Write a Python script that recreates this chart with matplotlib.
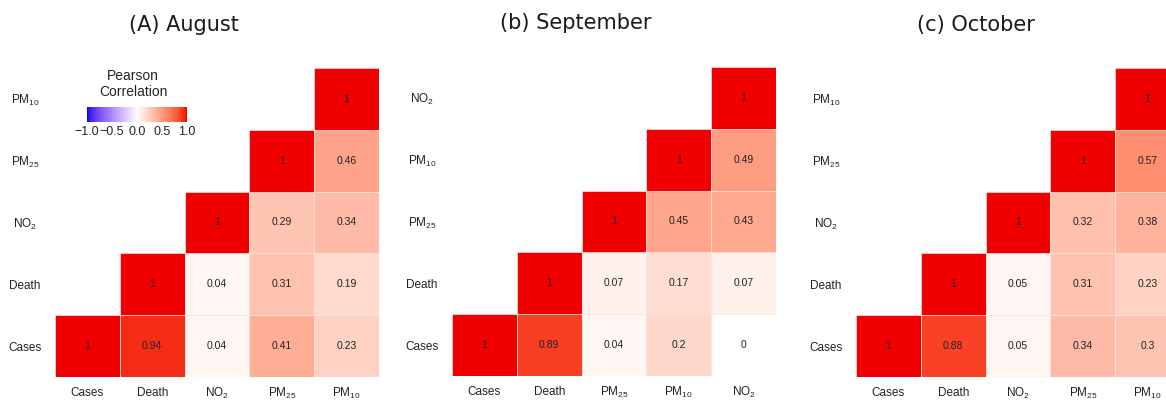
import numpy as np
import matplotlib
matplotlib.use("Agg")
import matplotlib.pyplot as plt
from matplotlib.colors import ListedColormap, Normalize

plt.rcParams["font.family"] = ["Liberation Sans", "DejaVu Sans"]
plt.rcParams["mathtext.default"] = "regular"

# ---- data: upper-triangle Pearson correlations (row i, columns i..4) ----
titles = ["(A) August", "(b) September", "(c) October"]

vars_aug = ["Cases", "Death", "NO$_2$", "PM$_{25}$", "PM$_{10}$"]
vars_sep = ["Cases", "Death", "PM$_{25}$", "PM$_{10}$", "NO$_2$"]
vars_oct = ["Cases", "Death", "NO$_2$", "PM$_{25}$", "PM$_{10}$"]

aug_cases = [1, 0.94, 0.04, 0.41, 0.23]
aug_death = [1, 0.04, 0.31, 0.19]
aug_no2 = [1, 0.29, 0.34]
aug_pm25 = [1, 0.46]
aug_pm10 = [1]

sep_cases = [1, 0.89, 0.04, 0.2, 0]
sep_death = [1, 0.07, 0.17, 0.07]
sep_pm25 = [1, 0.45, 0.43]
sep_pm10 = [1, 0.49]
sep_no2 = [1]

oct_cases = [1, 0.88, 0.05, 0.34, 0.3]
oct_death = [1, 0.05, 0.31, 0.23]
oct_no2 = [1, 0.32, 0.38]
oct_pm25 = [1, 0.57]
oct_pm10 = [1]

panels = [
    (titles[0], vars_aug, [aug_cases, aug_death, aug_no2, aug_pm25, aug_pm10]),
    (titles[1], vars_sep, [sep_cases, sep_death, sep_pm25, sep_pm10, sep_no2]),
    (titles[2], vars_oct, [oct_cases, oct_death, oct_no2, oct_pm25, oct_pm10]),
]

cbar_ticks = [-1.0, -0.5, 0.0, 0.5, 1.0]
cbar_labels = ["\u22121.0", "\u22120.5", "0.0", "0.5", "1.0"]


# ---- diverging blue-white-red palette interpolated in CIELAB ----
def srgb_to_lab(rgb):
    rgb = np.asarray(rgb, float)
    lin = np.where(rgb <= 0.04045, rgb / 12.92, ((rgb + 0.055) / 1.055) ** 2.4)
    m = np.array([[0.4124564, 0.3575761, 0.1804375],
                  [0.2126729, 0.7151522, 0.0721750],
                  [0.0193339, 0.1191920, 0.9503041]])
    xyz = m @ lin
    wp = np.array([0.95047, 1.0, 1.08883])
    t = xyz / wp
    f = np.where(t > (6 / 29) ** 3, np.cbrt(t), t / (3 * (6 / 29) ** 2) + 4 / 29)
    return np.array([116 * f[1] - 16, 500 * (f[0] - f[1]), 200 * (f[1] - f[2])])


def lab_to_srgb(lab):
    L, a, b = lab
    fy = (L + 16) / 116
    fx = fy + a / 500
    fz = fy - b / 200
    f = np.array([fx, fy, fz])
    d = 6 / 29
    t = np.where(f > d, f ** 3, 3 * d ** 2 * (f - 4 / 29))
    xyz = t * np.array([0.95047, 1.0, 1.08883])
    m_inv = np.array([[3.2404542, -1.5371385, -0.4985314],
                      [-0.9692660, 1.8760108, 0.0415560],
                      [0.0556434, -0.2040259, 1.0572252]])
    lin = m_inv @ xyz
    lin = np.clip(lin, 0, 1)
    rgb = np.where(lin <= 0.0031308, 12.92 * lin, 1.055 * lin ** (1 / 2.4) - 0.055)
    return np.clip(rgb, 0, 1)


low = srgb_to_lab([0.0, 0.0, 0.93])
mid = srgb_to_lab([1, 1, 1])
high = srgb_to_lab([0.94, 0.0, 0.0])
colors = []
for v in np.linspace(-1, 1, 512):
    if v < 0:
        lab = mid + (low - mid) * (-v)
    else:
        lab = mid + (high - mid) * v
    colors.append(lab_to_srgb(lab))
cmap = ListedColormap(colors)
norm = Normalize(-1, 1)

W, H = 1166, 401
fig = plt.figure(figsize=(W / 100, H / 100), dpi=100)
fig.patch.set_facecolor("white")

grid_left = [55, 452, 856]
grid_top = [68, 67, 68]
grid_w, grid_h = 324, 309
title_x = [184, 576, 976]
title_y = [25, 23, 25]

txt_color = "#222222"

for k, (title, names, rows) in enumerate(panels):
    x0 = grid_left[k]
    y0 = grid_top[k]
    ax = fig.add_axes([x0 / W, 1 - (y0 + grid_h) / H, grid_w / W, grid_h / H])
    n = len(names)
    for i, row in enumerate(rows):
        for off, val in enumerate(row):
            j = i + off
            ax.add_patch(plt.Rectangle((j - 0.5, i - 0.5), 1, 1,
                                       facecolor=cmap(norm(val)),
                                       edgecolor="#fbe4e0", linewidth=0.5))
            ax.text(j, i, f"{val:g}", ha="center", va="center",
                    fontsize=7.5, color=txt_color)
    ax.set_xlim(-0.5, n - 0.5)
    ax.set_ylim(-0.5, n - 0.5)
    for s in ax.spines.values():
        s.set_visible(False)
    ax.set_xticks(range(n))
    ax.set_yticks(range(n))
    ax.set_xticklabels(names, fontsize=8.5, color=txt_color)
    ax.set_yticklabels(names, fontsize=8.5, color=txt_color)
    ax.tick_params(length=0, axis="y", pad=21.6)
    ax.tick_params(length=0, axis="x", pad=11.5)
    for lab in ax.get_yticklabels():
        lab.set_ha("center")
    for lab in ax.get_xticklabels():
        lab.set_va("center")
    ax.set_facecolor("none")
    fig.text(title_x[k] / W, 1 - title_y[k] / H, title, ha="center",
             va="center", fontsize=15, color="#1a1a1a",
             family="DejaVu Sans")

# ---- colour legend in the first panel ----
fig.text(133 / W, 1 - 76 / H, "Pearson", ha="center", va="center",
         fontsize=10, color=txt_color)
fig.text(133 / W, 1 - 92 / H, "Correlation", ha="center", va="center",
         fontsize=10, color=txt_color)
cax = fig.add_axes([87 / W, 1 - 122 / H, 100 / W, 15 / H])
grad = np.linspace(-1, 1, 256).reshape(1, -1)
cax.imshow(grad, cmap=cmap, norm=norm, aspect="auto",
           extent=(-1, 1, 0, 1))
cax.set_xlim(-1, 1)
cax.set_yticks([])
cax.set_xticks(cbar_ticks)
cax.set_xticklabels(cbar_labels, fontsize=9, color=txt_color)
cax.tick_params(length=0, axis="x", pad=3)
for s in cax.spines.values():
    s.set_visible(False)

fig.savefig("out.png", dpi=100, facecolor="white")
